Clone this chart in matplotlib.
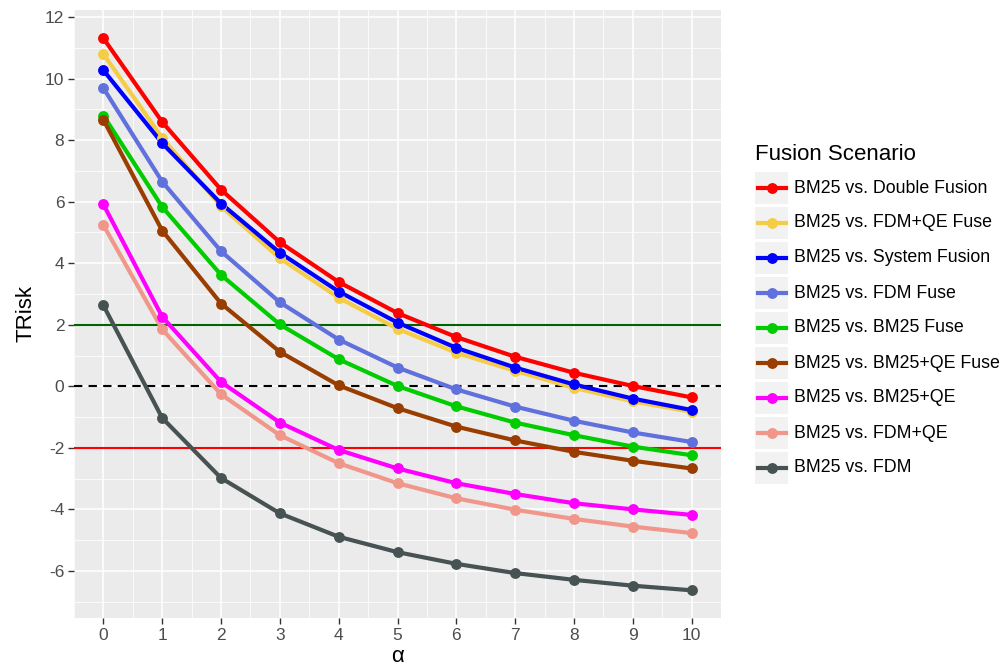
import numpy as np
import matplotlib
matplotlib.use("Agg")
import matplotlib.pyplot as plt
from matplotlib.lines import Line2D
from matplotlib.patches import Rectangle

plt.rcParams['font.family'] = ['Liberation Sans', 'DejaVu Sans']
plt.rcParams['axes.unicode_minus'] = False

alpha = np.arange(0, 11)

labels = ["BM25 vs. Double Fusion", "BM25 vs. FDM+QE Fuse", "BM25 vs. System Fusion",
          "BM25 vs. FDM Fuse", "BM25 vs. BM25 Fuse", "BM25 vs. BM25+QE Fuse",
          "BM25 vs. BM25+QE", "BM25 vs. FDM+QE", "BM25 vs. FDM"]
colors = ["#FF0000", "#F5CC45", "#0000FF", "#6070DD", "#00CC00", "#993D00",
          "#FF00FF", "#F0968A", "#475252"]

double_fusion = [11.31, 8.59, 6.39, 4.68, 3.39, 2.38, 1.60, 0.96, 0.44, 0.01, -0.36]
fdm_qe_fuse = [10.80, 8.07, 5.85, 4.16, 2.88, 1.87, 1.09, 0.50, -0.05, -0.49, -0.83]
system_fusion = [10.27, 7.90, 5.94, 4.34, 3.08, 2.07, 1.25, 0.61, 0.06, -0.40, -0.77]
fdm_fuse = [9.69, 6.65, 4.39, 2.73, 1.52, 0.61, -0.10, -0.66, -1.12, -1.50, -1.81]
bm25_fuse = [8.80, 5.83, 3.62, 2.01, 0.88, 0.01, -0.65, -1.18, -1.59, -1.96, -2.24]
bm25_qe_fuse = [8.66, 5.06, 2.69, 1.12, 0.03, -0.71, -1.31, -1.76, -2.13, -2.42, -2.67]
bm25_qe = [5.91, 2.26, 0.14, -1.18, -2.07, -2.67, -3.15, -3.50, -3.80, -4.00, -4.18]
fdm_qe = [5.24, 1.85, -0.26, -1.59, -2.50, -3.15, -3.64, -4.01, -4.31, -4.56, -4.77]
fdm = [2.63, -1.03, -2.98, -4.13, -4.89, -5.39, -5.77, -6.07, -6.29, -6.48, -6.63]

series = [double_fusion, fdm_qe_fuse, system_fusion, fdm_fuse, bm25_fuse,
          bm25_qe_fuse, bm25_qe, fdm_qe, fdm]

W, H = 1004, 669
fig = plt.figure(figsize=(W / 100, H / 100), dpi=100)
ax = fig.add_axes([74 / W, (H - 618) / H, (721 - 74) / W, (618 - 10) / H])
ax.set_facecolor("#EBEBEB")
for s in ax.spines.values():
    s.set_visible(False)

ax.set_xlim(-0.5, 10.5)
ax.set_ylim(-7.53, 12.23)
ax.set_xticks(alpha)
ax.set_yticks(np.arange(-6, 13, 2))
ax.set_xticks(np.arange(-0.5, 10.6, 1), minor=True)
ax.set_yticks(np.arange(-7, 12, 2), minor=True)
ax.grid(which="major", color="white", lw=1.1)
ax.grid(which="minor", color="white", lw=0.55)
ax.set_axisbelow(True)
ax.tick_params(which="major", length=4, width=1, color="#333333",
               labelsize=12.5, labelcolor="#4D4D4D", pad=3)
ax.tick_params(which="minor", length=0)

ax.axhline(2, color="#006400", lw=1.5, zorder=1.5)
ax.axhline(-2, color="#FF0000", lw=1.5, zorder=1.5)
ax.axhline(0, color="black", lw=1.5, ls=(0, (4, 3)), zorder=1.5)

for vals, c in zip(series, colors):
    ax.plot(alpha, vals, color=c, lw=3, solid_capstyle="round", zorder=2)
for vals, c in zip(series, colors):
    ax.plot(alpha, vals, "o", color=c, ms=6.8, zorder=3)

ax.set_xlabel("α", fontsize=16, labelpad=2)
ax.set_ylabel("TRisk", fontsize=16, labelpad=6)

# legend
fig.text(755 / W, 1 - 155 / H, "Fusion Scenario", fontsize=16, va="center", ha="left")
for i, (lab, c) in enumerate(zip(labels, colors)):
    yc = 188 + 35 * i
    fig.add_artist(Rectangle((755 / W, 1 - (yc + 16) / H), 33 / W, 32 / H,
                             transform=fig.transFigure, facecolor="#F2F2F2", edgecolor="none"))
    fig.add_artist(Line2D([758 / W, 786 / W], [1 - yc / H] * 2, color=c, lw=3,
                          transform=fig.transFigure))
    fig.add_artist(Line2D([772 / W], [1 - yc / H], marker="o", color=c, ms=6.8,
                          transform=fig.transFigure))
    fig.text(794 / W, 1 - yc / H, lab, fontsize=12.8, va="center", ha="left")

fig.savefig("out.png", dpi=100)
